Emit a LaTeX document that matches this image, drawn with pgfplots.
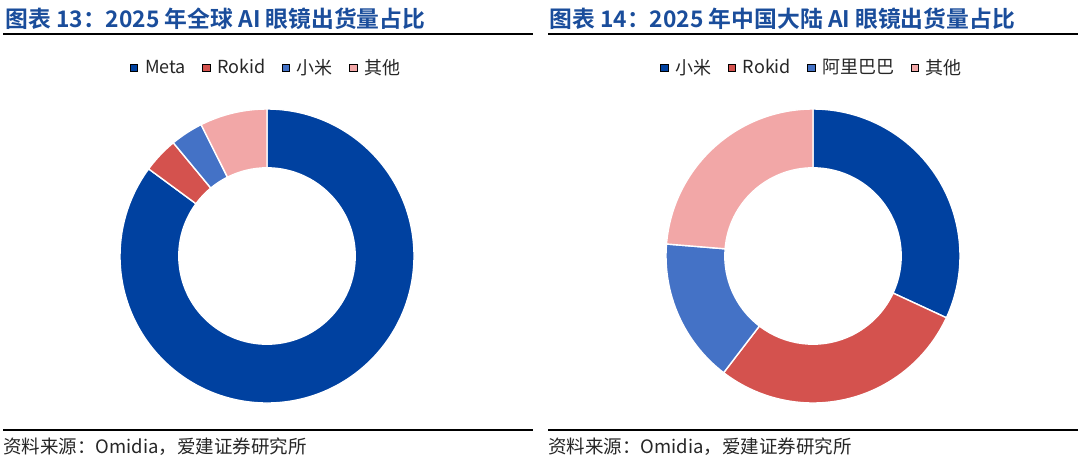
\documentclass[border=0pt]{standalone}
\usepackage{pgfplots}
\usepackage{pgfplotstable}
\pgfplotsset{compat=1.18}
\usepackage{fontspec}
\setmainfont{Noto Sans CJK SC}[BoldFont={Noto Sans CJK SC Bold}]

\definecolor{c0}{HTML}{0041A0}
\definecolor{c1}{HTML}{D4524E}
\definecolor{c2}{HTML}{4472C6}
\definecolor{c3}{HTML}{F2A7A7}
\definecolor{TitleBlue}{HTML}{1A4D9B}
\definecolor{TxtGray}{HTML}{262626}

% shares (%), drawn clockwise from 12 o'clock
\pgfplotstableread{
name share
Meta 85.1
Rokid 3.9
Xiaomi 3.6
Other 7.4
}\globaltbl
\pgfplotstableread{
name share
Xiaomi 31.9
Rokid 28.5
Alibaba 15.9
Other 23.7
}\chinatbl
\pgfplotstablecreatecol[create col/expr accum={\pgfmathaccuma+\thisrow{share}}{0}]{cum}\globaltbl
\pgfplotstablecreatecol[create col/expr accum={\pgfmathaccuma+\thisrow{share}}{0}]{cum}\chinatbl

\def\Ro{73.5pt}
\def\Ri{44.1pt}
\newcommand\donut[1]{%
  \pgfplotsforeachungrouped \i in {0,...,3}{%
    \pgfplotstablegetelem{\i}{share}\of#1\let\sh\pgfplotsretval
    \pgfplotstablegetelem{\i}{cum}\of#1\let\cu\pgfplotsretval
    \pgfmathsetmacro\aa{90-3.6*(\cu-\sh)}%
    \pgfmathsetmacro\ab{90-3.6*\cu}%
    \edef\wedge{\noexpand\fill[fill=c\i,draw=white,line width=0.7pt,shift={(axis cs:0,0)}]
      (\aa:\Ro) arc[start angle=\aa,end angle=\ab,radius=\Ro]
      -- (\ab:\Ri) arc[start angle=\ab,end angle=\aa,radius=\Ri] -- cycle;}%
    \wedge
  }%
}

\pgfplotsset{
  ring/.style={
    anchor=center, scale only axis, width=147pt, height=147pt,
    xmin=-1, xmax=1, ymin=-1, ymax=1, hide axis, clip=false,
    legend columns=-1,
    legend image code/.code={\fill[##1] (0pt,-1.9pt) rectangle (3.8pt,1.9pt);},
    legend style={at={(0.5,1)}, anchor=center, yshift=20.5pt, draw=none, fill=none,
      font=\fontsize{9pt}{10.5pt}\selectfont, text=TxtGray,
      /tikz/every odd column/.append style={column sep=1.5pt},
      /tikz/every even column/.append style={column sep=6pt}},
  },
}

\begin{document}
\begin{tikzpicture}
\path[use as bounding box] (0pt,0pt) rectangle (540pt,-231pt);

% left panel
\node[anchor=base west, text=TitleBlue, font=\fontsize{11.4pt}{13pt}\selectfont\bfseries, inner sep=0pt]
  at (2.5pt,-13.8pt) {图表 13：2025 年全球 AI 眼镜出货量占比};
\draw[line width=1pt] (1.5pt,-17pt) -- (266.5pt,-17pt);
\draw[line width=0.8pt] (1.5pt,-215pt) -- (266.5pt,-215pt);
\node[anchor=base west, text=TxtGray, font=\fontsize{9.25pt}{11pt}\selectfont, inner sep=0pt]
  at (1.5pt,-226.5pt) {资料来源：Omidia，爱建证券研究所};

\begin{axis}[ring, at={(133.5pt,-128pt)}]
  \donut{\globaltbl}
  \addlegendimage{fill=c0}\addlegendentry{Meta}
  \addlegendimage{fill=c1}\addlegendentry{Rokid}
  \addlegendimage{fill=c2}\addlegendentry{小米}
  \addlegendimage{fill=c3}\addlegendentry{其他}
\end{axis}

% right panel
\node[anchor=base west, text=TitleBlue, font=\fontsize{11.4pt}{13pt}\selectfont\bfseries, inner sep=0pt]
  at (274.5pt,-13.8pt) {图表 14：2025 年中国大陆 AI 眼镜出货量占比};
\draw[line width=1pt] (274pt,-17pt) -- (539pt,-17pt);
\draw[line width=0.8pt] (274pt,-215pt) -- (539pt,-215pt);
\node[anchor=base west, text=TxtGray, font=\fontsize{9.25pt}{11pt}\selectfont, inner sep=0pt]
  at (274pt,-226.5pt) {资料来源：Omidia，爱建证券研究所};

\begin{axis}[ring, at={(406.5pt,-128pt)}]
  \donut{\chinatbl}
  \addlegendimage{fill=c0}\addlegendentry{小米}
  \addlegendimage{fill=c1}\addlegendentry{Rokid}
  \addlegendimage{fill=c2}\addlegendentry{阿里巴巴}
  \addlegendimage{fill=c3}\addlegendentry{其他}
\end{axis}
\end{tikzpicture}
\end{document}
